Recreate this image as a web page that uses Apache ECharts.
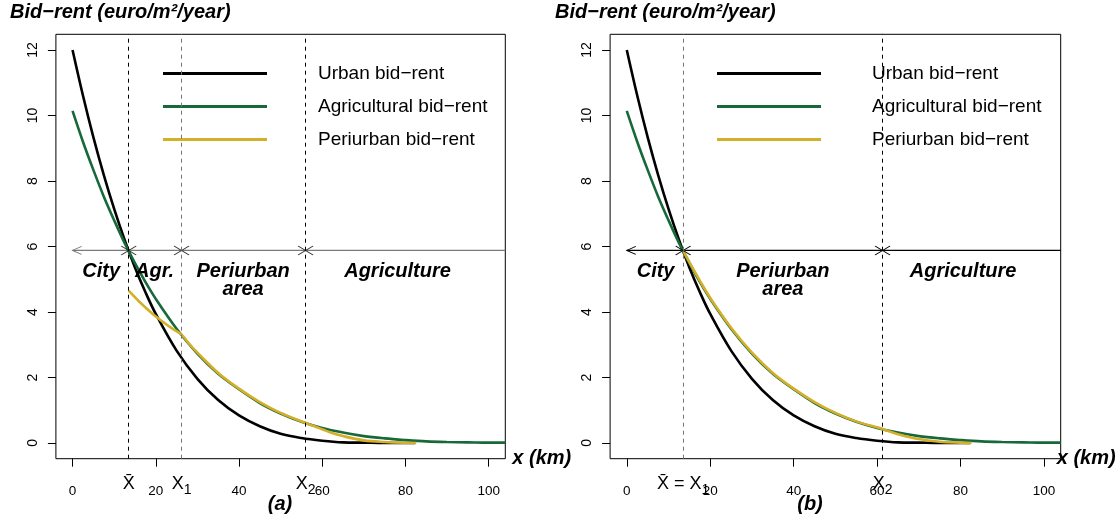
<!DOCTYPE html>
<html>
<head>
<meta charset="utf-8">
<script src="https://cdn.jsdelivr.net/npm/echarts@6/dist/echarts.min.js"></script>
<style>
  html, body { margin: 0; background: #fff; }
  #main { width: 1119px; height: 515px; }
</style>
</head>
<body>
<div id="main"></div>
<script>
const FONT = "'Liberation Sans', Arial, sans-serif";

// legend names and colours
const seriesNames = ['Urban bid\u2212rent', 'Agricultural bid\u2212rent', 'Periurban bid\u2212rent'];
const lineColors = ['#000000', '#17693a', '#d4b02a'];

// urban bid-rent (same in both panels)
const urbanX = [0, 2.5, 5, 7.5, 10, 12.5, 15, 17.5, 20, 25, 30, 35, 40, 45, 50, 55, 60, 65, 70, 75, 82.3];
const urbanY = [12, 10.61, 9.34, 8.19, 7.15, 6.21, 5.36, 4.61, 3.94, 2.82, 1.96, 1.31, 0.84, 0.51, 0.28, 0.15, 0.07, 0.02, 0.01, 0, 0];

// agricultural bid-rent (same in both panels)
const agriX = [0, 2.5, 5, 7.5, 10, 12.5, 15, 17.5, 20, 25, 30, 35, 40, 45, 50, 55, 60, 65, 70, 75, 80, 85, 90, 95, 100, 104];
const agriY = [10.14, 9.2, 8.34, 7.53, 6.8, 6.11, 5.49, 4.92, 4.4, 3.49, 2.73, 2.11, 1.64, 1.22, 0.9, 0.65, 0.46, 0.32, 0.21, 0.14, 0.09, 0.05, 0.03, 0.02, 0.01, 0.01];

// periurban bid-rent, panel (a)
const periXa = [13.5, 16, 19, 22, 24, 26.2, 28, 30, 35, 40, 45, 50, 56, 58, 60, 62, 65, 70, 75, 80, 82.6];
const periYa = [4.65, 4.32, 3.97, 3.67, 3.49, 3.31, 3.03, 2.76, 2.14, 1.66, 1.25, 0.92, 0.61, 0.52, 0.42, 0.32, 0.21, 0.08, 0.03, 0.005, 0];

// periurban bid-rent, panel (b)
const periXb = [13.5, 15, 17.5, 20, 25, 30, 35, 40, 45, 50, 55, 61.3, 63, 65, 70, 75, 80, 82.6];
const periYb = [5.88, 5.52, 4.96, 4.43, 3.52, 2.76, 2.14, 1.66, 1.25, 0.92, 0.66, 0.43, 0.35, 0.27, 0.12, 0.04, 0.01, 0];

// axis ticks
const xTicks = [0, 20, 40, 60, 80, 100];
const yTicks = [0, 2, 4, 6, 8, 10, 12];

// zone boundaries and their labels
const cutRent = 5.88;
const boundsA = [13.5, 26.2, 56];
const boundTextA = ['{x|X\u0304}', '{x|X}{s|1}', '{x|X}{s|2}'];
const boundsB = [13.5, 61.3];
const boundTextB = ['{x|X\u0304 = X}{s|1}', '{x|X}{s|2}'];

// zone names
const zoneNamesA = ['City', 'Agr.', 'Periurban\narea', 'Agriculture'];
const zoneXA = [6.9, 19.7, 41.0, 78.1];
const zoneYA = [5.24, 5.24, 4.97, 5.24];
const zoneNamesB = ['City', 'Periurban\narea', 'Agriculture'];
const zoneXB = [6.9, 37.4, 80.6];
const zoneYB = [5.24, 4.97, 5.24];

const pairs = (xs, ys) => xs.map((x, i) => [x, ys[i]]);

const panels = [
  { left: 55.9, width: 449.4, nameGap: 7, bounds: boundsA, boundText: boundTextA,
    dashColors: ['#000', '#777', '#000'], axisColor: '#7a7a7a', markColor: '#333',
    peri: pairs(periXa, periYa), zones: zoneNamesA, zx: zoneXA, zy: zoneYA, legendLeft: 163 },
  { left: 610.1, width: 450.6, nameGap: -4, bounds: boundsB, boundText: boundTextB,
    dashColors: ['#777', '#000'], axisColor: '#000', markColor: '#000',
    peri: pairs(periXb, periYb), zones: zoneNamesB, zx: zoneXB, zy: zoneYB, legendLeft: 717 }
];

const grids = [], xAxes = [], yAxes = [], series = [], legends = [];

panels.forEach((p, i) => {
  grids.push({ left: p.left, top: 34.3, width: p.width, height: 424.4, show: true,
    borderColor: '#000', borderWidth: 1, backgroundColor: 'transparent', outerBoundsMode: 'none' });

  xAxes.push({
    type: 'value', gridIndex: i, min: -4, max: 104,
    axisLine: { show: false, onZero: false }, splitLine: { show: false },
    axisTick: { customValues: xTicks, length: 8, lineStyle: { color: '#000' } },
    axisLabel: { customValues: xTicks, margin: 26, fontSize: 13.5, color: '#000', fontFamily: FONT },
    name: 'x (km)', nameLocation: 'end', nameGap: p.nameGap,
    nameTextStyle: { fontSize: 20, fontWeight: 'bold', fontStyle: 'italic', color: '#000', fontFamily: FONT,
      verticalAlign: 'middle', padding: [6, 0, 0, 0] }
  });
  // secondary axis carrying the boundary names
  const bmap = {};
  p.bounds.forEach((b, k) => { bmap[b] = p.boundText[k]; });
  xAxes.push({
    type: 'value', gridIndex: i, min: -4, max: 104, position: 'bottom',
    axisLine: { show: false, onZero: false }, splitLine: { show: false }, axisTick: { show: false },
    axisLabel: {
      customValues: p.bounds, margin: 15, color: '#000', fontFamily: FONT,
      formatter: v => bmap[v] || '',
      rich: {
        x: { fontSize: 18, color: '#000', fontFamily: FONT, lineHeight: 20 },
        s: { fontSize: 14, color: '#000', fontFamily: FONT, lineHeight: 20, padding: [12, 0, 0, 0] }
      }
    }
  });

  yAxes.push({
    type: 'value', gridIndex: i, min: -0.48, max: 12.48,
    axisLine: { show: false, onZero: false }, splitLine: { show: false },
    axisTick: { customValues: yTicks, length: 8, lineStyle: { color: '#000' } },
    axisLabel: { customValues: yTicks, rotate: 90, margin: 16, fontSize: 14, color: '#000', fontFamily: FONT }
  });

  const xi = i * 2, yi = i;
  const lineSeries = (name, data, color) => ({
    type: 'line', name, data, xAxisIndex: xi, yAxisIndex: yi,
    showSymbol: false, smooth: 0.35, silent: true,
    itemStyle: { color }, lineStyle: { color, width: 2.6 }, z: 3
  });

  const urban = lineSeries(seriesNames[0], pairs(urbanX, urbanY), lineColors[0]);
  urban.markLine = {
    symbol: 'none', silent: true, animation: false, label: { show: false },
    data: p.bounds.map((b, k) => ({ xAxis: b, lineStyle: { color: p.dashColors[k], type: [4, 4], width: 1 } }))
  };
  series.push(urban);
  series.push(lineSeries(seriesNames[1], pairs(agriX, agriY), lineColors[1]));
  series.push(lineSeries(seriesNames[2], p.peri, lineColors[2]));

  // horizontal zoning axis
  series.push({
    type: 'line', xAxisIndex: xi, yAxisIndex: yi, silent: true, showSymbol: false,
    data: [[0, cutRent], [104, cutRent]], lineStyle: { color: p.axisColor, width: 1.3 }, z: 2
  });
  // left arrow head
  series.push({
    type: 'scatter', xAxisIndex: xi, yAxisIndex: yi, silent: true,
    data: [[0, cutRent]], symbol: 'path://M10,0 L0,5 L10,10', symbolSize: [9, 8], symbolOffset: [4.5, 0],
    itemStyle: { color: 'none', borderColor: p.axisColor, borderWidth: 1, opacity: 1 }, z: 4
  });
  // boundary crosses
  series.push({
    type: 'scatter', xAxisIndex: xi, yAxisIndex: yi, silent: true,
    data: p.bounds.map(b => [b, cutRent]), symbol: 'path://M0,0 L14,8 M0,8 L14,0', symbolSize: [15, 9],
    itemStyle: { color: 'none', borderColor: p.markColor, borderWidth: 1, opacity: 1 }, z: 4
  });
  // zone names
  series.push({
    type: 'scatter', xAxisIndex: xi, yAxisIndex: yi, silent: true, symbolSize: 0,
    itemStyle: { opacity: 1 },
    data: p.zones.map((n, k) => ({ name: n, value: [p.zx[k], p.zy[k]] })),
    label: { show: true, position: 'inside', formatter: d => d.name, fontSize: 20, lineHeight: 18,
      fontWeight: 'bold', fontStyle: 'italic', color: '#000', opacity: 1, fontFamily: FONT, align: 'center' },
    z: 5
  });

  legends.push({
    left: p.legendLeft, top: 63.5, orient: 'vertical', icon: 'rect', itemWidth: 104, itemHeight: 3,
    itemGap: 13, selectedMode: false, data: seriesNames, padding: 0,
    textStyle: { fontSize: 19, lineHeight: 20, color: '#000', fontFamily: FONT, padding: [0, 0, 0, 46] }
  });
});

const titleStyle = { fontSize: 20, fontWeight: 'bold', fontStyle: 'italic', color: '#000', fontFamily: FONT, lineHeight: 20 };

const chart = echarts.init(document.getElementById('main'), null, { renderer: 'canvas' });
chart.setOption({
  animation: false,
  backgroundColor: '#fff',
  title: [
    { text: 'Bid\u2212rent (euro/m\u00b2/year)', left: 10, top: 2, padding: 0, textStyle: titleStyle },
    { text: 'Bid\u2212rent (euro/m\u00b2/year)', left: 555, top: 2, padding: 0, textStyle: titleStyle },
    { text: '(a)', left: 280, top: 494, padding: 0, textAlign: 'center', textStyle: titleStyle },
    { text: '(b)', left: 810, top: 494, padding: 0, textAlign: 'center', textStyle: titleStyle }
  ],
  legend: legends,
  grid: grids,
  xAxis: xAxes,
  yAxis: yAxes,
  series: series
});
</script>
</body>
</html>
